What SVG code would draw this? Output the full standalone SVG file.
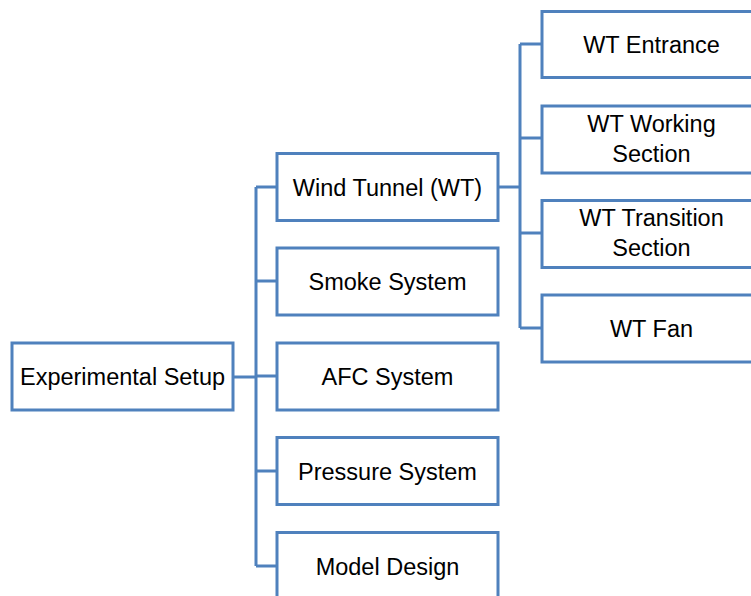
<svg xmlns="http://www.w3.org/2000/svg" width="751" height="596" viewBox="0 0 751 596">
  <style>
    .box { fill: #ffffff; stroke: #4F81BD; stroke-width: 3; }
    .link { fill: none; stroke: #4F81BD; stroke-width: 3; }
    .label { font-family: "Liberation Sans", Arial, sans-serif; font-size: 23.5px; fill: #000000; text-anchor: middle; }
  </style>
  <rect width="751" height="596" fill="#ffffff"/>

  <!-- connectors -->
  <g id="connectors">
    <!-- root to first-level trunk -->
    <path class="link" d="M233,377 H256"/>
    <path class="link" d="M256,187 V566"/>
    <path class="link" d="M256,187 H277"/>
    <path class="link" d="M256,281 H277"/>
    <path class="link" d="M256,376 H277"/>
    <path class="link" d="M256,471 H277"/>
    <path class="link" d="M256,566 H277"/>
    <!-- wind tunnel to its sections -->
    <path class="link" d="M498,187 H520"/>
    <path class="link" d="M520,44 V328"/>
    <path class="link" d="M520,44 H542"/>
    <path class="link" d="M520,138 H542"/>
    <path class="link" d="M520,233 H542"/>
    <path class="link" d="M520,328 H542"/>
  </g>

  <g id="experimental-setup">
    <rect class="box" x="12" y="343" width="221" height="67"/>
    <text class="label" x="122.5" y="385">Experimental Setup</text>
  </g>

  <g id="wind-tunnel">
    <rect class="box" x="277" y="153.5" width="221" height="67"/>
    <text class="label" x="387.5" y="195.5">Wind Tunnel (WT)</text>
  </g>
  <g id="smoke-system">
    <rect class="box" x="277" y="248" width="221" height="67"/>
    <text class="label" x="387.5" y="290">Smoke System</text>
  </g>
  <g id="afc-system">
    <rect class="box" x="277" y="343" width="221" height="67"/>
    <text class="label" x="387.5" y="385">AFC System</text>
  </g>
  <g id="pressure-system">
    <rect class="box" x="277" y="437.5" width="221" height="67"/>
    <text class="label" x="387.5" y="479.5">Pressure System</text>
  </g>
  <g id="model-design">
    <rect class="box" x="277" y="532.5" width="221" height="67"/>
    <text class="label" x="387.5" y="574.5">Model Design</text>
  </g>

  <g id="wt-entrance">
    <rect class="box" x="542" y="11.5" width="221" height="66"/>
    <text class="label" x="651.5" y="52.5">WT Entrance</text>
  </g>
  <g id="wt-working-section">
    <rect class="box" x="542" y="106" width="221" height="67"/>
    <text class="label" x="651.5" y="132">WT Working</text>
    <text class="label" x="651.5" y="162">Section</text>
  </g>
  <g id="wt-transition-section">
    <rect class="box" x="542" y="200.5" width="221" height="67"/>
    <text class="label" x="651.5" y="226">WT Transition</text>
    <text class="label" x="651.5" y="256">Section</text>
  </g>
  <g id="wt-fan">
    <rect class="box" x="542" y="295" width="221" height="67"/>
    <text class="label" x="651.5" y="337">WT Fan</text>
  </g>
</svg>
